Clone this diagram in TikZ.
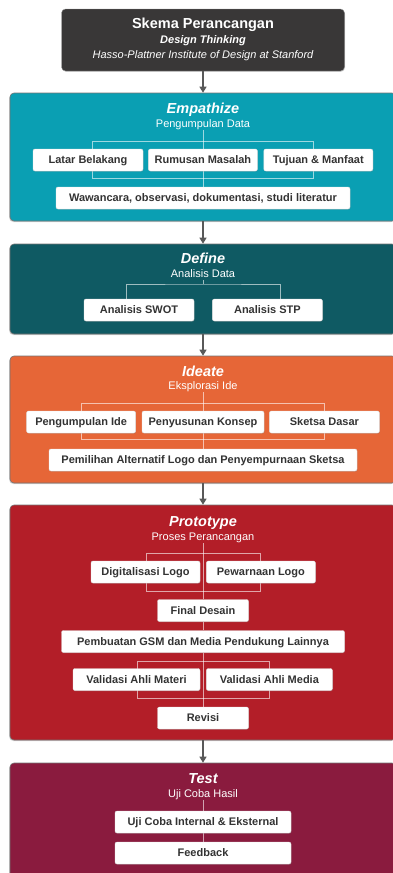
\documentclass[tikz,border=0pt]{standalone}
\usepackage{fontspec}
\setmainfont{Liberation Sans}
\usetikzlibrary{positioning,arrows.meta,shadows}

\definecolor{headgray}{HTML}{393737}
\definecolor{empcol}{HTML}{0A9FB3}
\definecolor{defcol}{HTML}{0F5A63}
\definecolor{idecol}{HTML}{E66637}
\definecolor{procol}{HTML}{B31E28}
\definecolor{tstcol}{HTML}{8A1B3E}
\definecolor{boxtext}{HTML}{333333}

\pgfdeclarelayer{back}
\pgfdeclarelayer{mid}
\pgfsetlayers{back,mid,main}

\begin{document}
\begin{tikzpicture}[
  x=1pt,y=-1pt,
  stage/.style={draw=black!55,line width=0.6pt,rounded corners=4pt,minimum width=386,
    drop shadow={shadow xshift=-0.8pt,shadow yshift=-1pt,opacity=0.35}},
  stitle/.style={text=white,inner sep=2pt,text height=10.4pt,text depth=0pt,
    font=\fontsize{14.5}{16}\selectfont\bfseries\itshape},
  ssub/.style={text=white,inner sep=2pt,text height=7.9pt,text depth=0pt,
    font=\fontsize{11}{13}\selectfont},
  item/.style={fill=white,draw=black!12,rounded corners=2pt,minimum height=22,inner sep=0pt,
    text height=7.9pt,text depth=0pt,text=boxtext,font=\fontsize{11}{13}\selectfont\bfseries,
    drop shadow={shadow xshift=0.6pt,shadow yshift=-0.8pt,opacity=0.25}},
  link/.style={draw=white,draw opacity=0.6,line width=1pt},
  flow/.style={draw=black!65,line width=1.2pt,-{Triangle[width=7pt,length=6pt]}}
]
  \clip (0,0) rectangle (392,873);

  % header
  \node[fill=headgray,draw=black!40,rounded corners=4pt,minimum width=283,minimum height=62,
    drop shadow={shadow xshift=0.6pt,shadow yshift=-0.8pt,opacity=0.3}] (head) at (203,40) {};
  \node[stitle,font=\fontsize{14.5}{16}\selectfont\bfseries] (head-t) at (203,23) {Skema Perancangan};
  \node[ssub,font=\fontsize{11}{13}\selectfont\bfseries\itshape] (head-s) at (203,39.5) {Design Thinking};
  \node[ssub,font=\fontsize{11}{13}\selectfont\itshape] (head-i) at (203,55) {Hasso-Plattner Institute of Design at Stanford};

  % stages
  \begin{pgfonlayer}{back}
    \node[stage,fill=empcol,minimum height=128] (empathize) at (203,157) {};
    \node[stage,fill=defcol,minimum height=90] (define) at (203,289) {};
    \node[stage,fill=idecol,minimum height=127] (ideate) at (203,419.5) {};
    \node[stage,fill=procol,minimum height=235] (prototype) at (203,622.5) {};
    \node[stage,fill=tstcol,minimum height=130] (test) at (203,828) {};
  \end{pgfonlayer}

  \draw[flow] (head) -- (empathize);
  \draw[flow] (empathize) -- (define);
  \draw[flow] (define) -- (ideate);
  \draw[flow] (ideate) -- (prototype);
  \draw[flow] (prototype) -- (test);

  % Empathize
  \node[stitle] (emp-t) at (203,108) {Empathize};
  \node[ssub] (emp-s) at (203,124) {Pengumpulan Data};
  \node[item,minimum width=110] (latar) at (88,160) {Latar Belakang};
  \node[item,minimum width=109,right=5pt of latar] (rumusan) {Rumusan Masalah};
  \node[item,minimum width=109,right=6pt of rumusan] (tujuan) {Tujuan \& Manfaat};
  \node[item,minimum width=294] (wawancara) at (203,198) {Wawancara, observasi, dokumentasi, studi literatur};
  \begin{pgfonlayer}{mid}
    \draw[link] (92,141) rectangle (313,178);
    \draw[link] (emp-s) -- (wawancara);
  \end{pgfonlayer}

  % Define
  \node[stitle] (def-t) at (203,258) {Define};
  \node[ssub] (def-s) at (203,274) {Analisis Data};
  \node[item,minimum width=110] (swot) at (139,310) {Analisis SWOT};
  \node[item,minimum width=110,right=18pt of swot] (stp) {Analisis STP};
  \begin{pgfonlayer}{mid}
    \draw[link] (def-s) -- ++(0,10) coordinate (def-j);
    \draw[link] ([xshift=-13pt]swot.north) |- (def-j) -| ([xshift=13pt]stp.north);
  \end{pgfonlayer}

  % Ideate
  \node[stitle] (ide-t) at (203,371) {Ideate};
  \node[ssub] (ide-s) at (203,386) {Eksplorasi Ide};
  \node[item,minimum width=122] (konsep) at (203,422) {Penyusunan Konsep};
  \node[item,minimum width=109,left=6pt of konsep] (ide) {Pengumpulan Ide};
  \node[item,minimum width=110,right=5pt of konsep] (sketsa) {Sketsa Dasar};
  \node[item,minimum width=308] (pemilihan) at (203,460) {Pemilihan Alternatif Logo dan Penyempurnaan Sketsa};
  \begin{pgfonlayer}{mid}
    \draw[link] (81,403) rectangle (324,439);
    \draw[link] (ide-s) -- (pemilihan);
  \end{pgfonlayer}

  % Prototype
  \node[stitle] (pro-t) at (203,521) {Prototype};
  \node[ssub] (pro-s) at (203,537) {Proses Perancangan};
  \node[item,minimum width=109] (digital) at (145.5,572) {Digitalisasi Logo};
  \node[item,minimum width=109,right=6pt of digital] (warna) {Pewarnaan Logo};
  \node[item,minimum width=91] (final) at (203,610.5) {Final Desain};
  \node[item,minimum width=283] (gsm) at (203,641.5) {Pembuatan GSM dan Media Pendukung Lainnya};
  \node[item,minimum width=127] (materi) at (136.5,679.5) {Validasi Ahli Materi};
  \node[item,minimum width=126,right=6pt of materi] (media) {Validasi Ahli Media};
  \node[item,minimum width=91] (revisi) at (203,718) {Revisi};
  \begin{pgfonlayer}{mid}
    \draw[link] (146,553) rectangle (260,591);
    \draw[link] (137,661) rectangle (269,698);
    \draw[link] (pro-s) -- (final);
    \draw[link] (final) -- (gsm);
    \draw[link] (gsm) -- (revisi);
  \end{pgfonlayer}

  % Test
  \node[stitle] (tst-t) at (203,778) {Test};
  \node[ssub] (tst-s) at (203,794) {Uji Coba Hasil};
  \node[item,minimum width=176] (uji) at (203,822) {Uji Coba Internal \& Eksternal};
  \node[item,minimum width=176] (feedback) at (203,853) {Feedback};
  \begin{pgfonlayer}{mid}
    \draw[link] (tst-s) -- (uji);
    \draw[link] (uji) -- (feedback);
  \end{pgfonlayer}
\end{tikzpicture}
\end{document}
